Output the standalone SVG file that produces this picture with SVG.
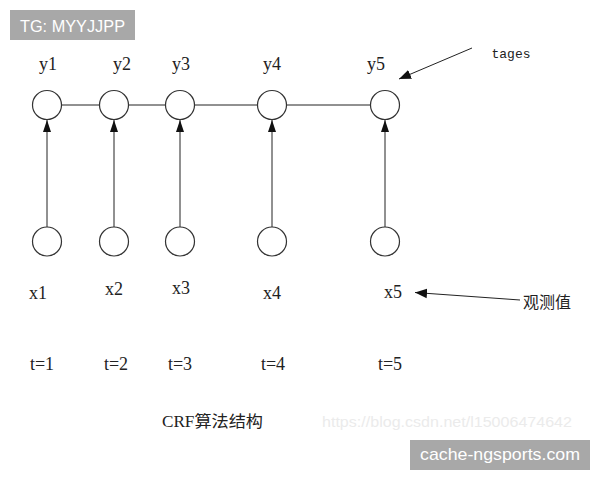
<svg xmlns="http://www.w3.org/2000/svg" width="600" height="480" viewBox="0 0 600 480">
<defs>
<style>
.node{fill:#fff;stroke:#333;stroke-width:1.2}
.edge{stroke:#222;stroke-width:1;fill:none}
.lbl{font-family:"Liberation Serif","Noto Sans CJK SC",serif;font-size:18px;fill:#222;text-anchor:middle}
.mono{font-family:"Liberation Mono",monospace;font-size:13px;fill:#222;text-anchor:middle}
.cjk{font-family:"Noto Sans CJK SC",sans-serif;font-size:16px;fill:#222;text-anchor:middle}
.badge{fill:#a8a8a8}
.btxt{font-family:"Liberation Sans",sans-serif;fill:#fff}
</style>
<marker id="ah" viewBox="0 0 10 10" refX="10" refY="5" markerWidth="12" markerHeight="12" markerUnits="userSpaceOnUse" orient="auto">
<path d="M0,1 L10,5 L0,9 Z" fill="#111"/>
</marker>
<marker id="ahv" viewBox="0 0 12 8" refX="12" refY="4" markerWidth="12" markerHeight="8" markerUnits="userSpaceOnUse" orient="auto">
<path d="M0,0 L12,4 L0,8 Z" fill="#111"/>
</marker>
</defs>
<rect width="600" height="480" fill="#fff"/>

<g id="badge-tg">
<rect class="badge" x="10" y="10" width="125" height="30"/>
<text class="btxt" x="20" y="32" font-size="17" textLength="105" lengthAdjust="spacingAndGlyphs">TG: MYYJJPP</text>
</g>

<g id="connectors">
<line class="edge" x1="61.5" y1="105" x2="99.5" y2="105"/>
<line class="edge" x1="128.5" y1="105" x2="165.5" y2="105"/>
<line class="edge" x1="194.5" y1="105" x2="257.5" y2="105"/>
<line class="edge" x1="286.5" y1="105" x2="370.5" y2="105"/>
<line class="edge" x1="47" y1="227" x2="47" y2="120" marker-end="url(#ahv)"/>
<line class="edge" x1="114" y1="227" x2="114" y2="120" marker-end="url(#ahv)"/>
<line class="edge" x1="180" y1="227" x2="180" y2="120" marker-end="url(#ahv)"/>
<line class="edge" x1="272" y1="227" x2="272" y2="120" marker-end="url(#ahv)"/>
<line class="edge" x1="385" y1="227" x2="385" y2="120" marker-end="url(#ahv)"/>
<line class="edge" x1="472" y1="48" x2="399" y2="79" marker-end="url(#ah)"/>
<line class="edge" x1="520" y1="300" x2="415" y2="292.5" marker-end="url(#ah)"/>
</g>

<g id="y1"><circle class="node" cx="47" cy="105" r="14.5"/><text class="lbl" x="48" y="70">y1</text></g>
<g id="y2"><circle class="node" cx="114" cy="105" r="14.5"/><text class="lbl" x="122" y="70">y2</text></g>
<g id="y3"><circle class="node" cx="180" cy="105" r="14.5"/><text class="lbl" x="181" y="70">y3</text></g>
<g id="y4"><circle class="node" cx="272" cy="105" r="14.5"/><text class="lbl" x="272" y="70">y4</text></g>
<g id="y5"><circle class="node" cx="385" cy="105" r="14.5"/><text class="lbl" x="376" y="70">y5</text></g>

<g id="x1"><circle class="node" cx="47" cy="241.5" r="14.5"/><text class="lbl" x="38" y="299">x1</text><text class="lbl" x="42" y="370">t=1</text></g>
<g id="x2"><circle class="node" cx="114" cy="241.5" r="14.5"/><text class="lbl" x="114" y="295">x2</text><text class="lbl" x="116" y="370">t=2</text></g>
<g id="x3"><circle class="node" cx="180" cy="241.5" r="14.5"/><text class="lbl" x="181" y="294">x3</text><text class="lbl" x="180" y="370">t=3</text></g>
<g id="x4"><circle class="node" cx="272" cy="241.5" r="14.5"/><text class="lbl" x="272" y="299">x4</text><text class="lbl" x="273" y="370">t=4</text></g>
<g id="x5"><circle class="node" cx="385" cy="241.5" r="14.5"/><text class="lbl" x="393" y="298">x5</text><text class="lbl" x="390" y="370">t=5</text></g>

<g id="tages-label"><text class="mono" x="511" y="58">tages</text></g>
<g id="obs-label"><text class="cjk" x="547" y="308">观测值</text></g>

<g id="caption">
<text x="162" y="427" font-family="Liberation Serif,'Noto Sans CJK SC',serif" font-size="16" fill="#222" textLength="101" lengthAdjust="spacingAndGlyphs">CRF算法结构</text>
<text x="322" y="427" font-family="Liberation Sans,sans-serif" font-size="15" fill="#ebebeb" textLength="250" lengthAdjust="spacingAndGlyphs">https://blog.csdn.net/l15006474642</text>
</g>

<g id="badge-site">
<rect class="badge" x="410" y="440" width="180" height="30"/>
<text class="btxt" x="420" y="460" font-size="17" textLength="160" lengthAdjust="spacingAndGlyphs">cache-ngsports.com</text>
</g>
</svg>
